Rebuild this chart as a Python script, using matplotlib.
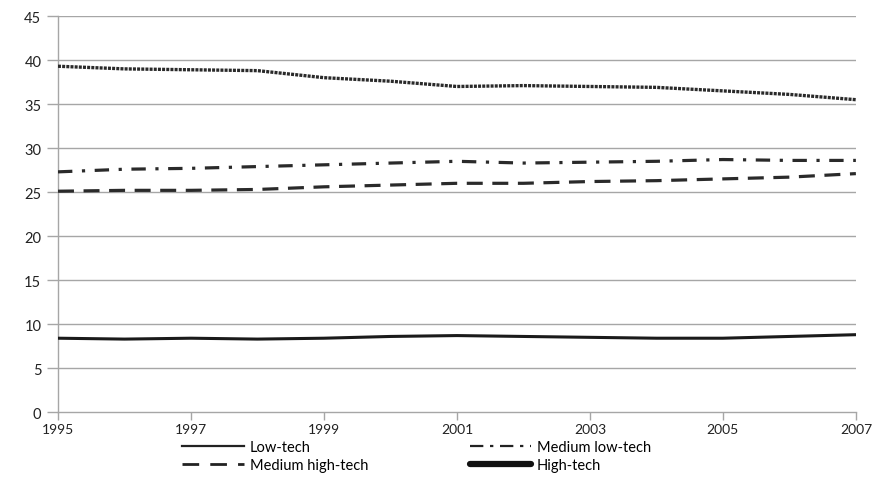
import matplotlib
matplotlib.use("Agg")
import matplotlib.pyplot as plt
from matplotlib.lines import Line2D

plt.rcParams['font.family'] = ['Lato', 'DejaVu Sans']

# data
years = list(range(1995, 2008))
low_tech = [39.3, 39.0, 38.9, 38.8, 38.0, 37.6, 37.0, 37.1, 37.0, 36.9, 36.5, 36.1, 35.5]
medium_low = [27.3, 27.6, 27.7, 27.9, 28.1, 28.3, 28.5, 28.3, 28.4, 28.5, 28.7, 28.6, 28.6]
medium_high = [25.1, 25.2, 25.2, 25.3, 25.6, 25.8, 26.0, 26.0, 26.2, 26.3, 26.5, 26.7, 27.1]
high_tech = [8.4, 8.3, 8.4, 8.3, 8.4, 8.6, 8.7, 8.6, 8.5, 8.4, 8.4, 8.6, 8.8]
xticks = [1995, 1997, 1999, 2001, 2003, 2005, 2007]
yticks = list(range(0, 50, 5))

fig = plt.figure(figsize=(8.72, 5.02), dpi=100)
ax = fig.add_axes([0.0665, 0.177, 0.915, 0.789])

grid_c = '#a6a6a6'
for y in yticks[1:]:
    ax.axhline(y, color=grid_c, lw=1.0, zorder=1)

ax.plot(years, low_tech, color='#2a2a2a', lw=2.4, linestyle=(0, (0.9, 0.35)), zorder=3)
ax.plot(years, medium_low, color='#2a2a2a', lw=2.3, linestyle=(0, (4.5, 3, 1, 3)), zorder=3)
ax.plot(years, medium_high, color='#2a2a2a', lw=2.3, linestyle=(0, (5, 3)), zorder=3)
ax.plot(years, high_tech, color='#1a1a1a', lw=2.2, zorder=3)

ax.set_xlim(1995, 2007)
ax.set_ylim(0, 45)
ax.set_xticks(xticks)
ax.set_yticks(yticks)
ax.tick_params(axis='both', colors=grid_c, labelcolor='#222222', labelsize=10.5,
               length=8, width=1.0, direction='out')
ax.tick_params(axis='y', pad=4)
ax.tick_params(axis='x', length=6, pad=2, labelsize=10)
for s in ['top', 'right']:
    ax.spines[s].set_visible(False)
for s in ['left', 'bottom']:
    ax.spines[s].set_color(grid_c)
    ax.spines[s].set_linewidth(1.0)

# column-wise fill: first column Low-tech / Medium high-tech
handles = [
    Line2D([], [], color='#222222', lw=1.6),
    Line2D([], [], color='#222222', lw=2.0, linestyle=(0, (6, 4))),
    Line2D([], [], color='#222222', lw=1.6, linestyle=(0, (6, 3, 1.5, 3))),
    Line2D([], [], color='#111111', lw=4.5, solid_capstyle='round'),
]
labels = ['Low-tech', 'Medium high-tech', 'Medium low-tech', 'High-tech']
fig.legend(handles, labels, loc='upper center', bbox_to_anchor=(0.478, 0.148),
           ncol=2, frameon=False, fontsize=10.5, handlelength=4.2,
           handletextpad=0.4, columnspacing=7, labelspacing=0.3)

fig.savefig('out.png', dpi=100)
